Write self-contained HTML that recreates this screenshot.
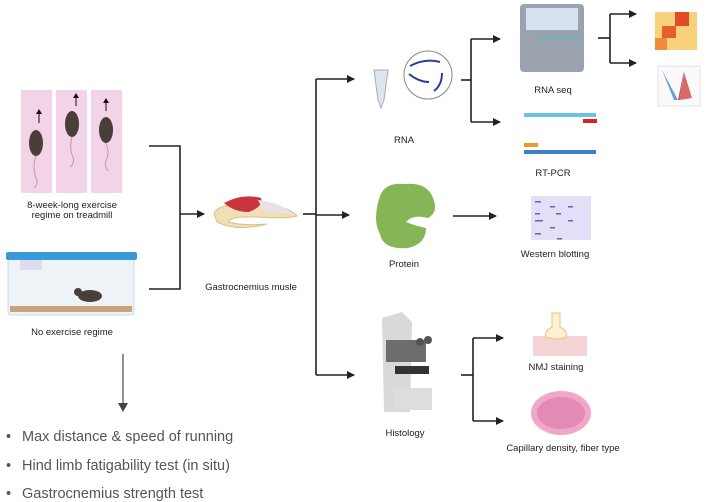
<!DOCTYPE html>
<html><head><meta charset="utf-8"><style>
html,body{margin:0;padding:0;background:#fff;width:709px;height:502px;overflow:hidden}
svg{display:block}
text{font-family:"Liberation Sans",sans-serif}
.l{font-size:9.5px;fill:#222;text-anchor:middle}
.b{font-size:14.5px;fill:#555}
</style></head><body>
<svg width="709" height="502" viewBox="0 0 709 502">
<defs>
<marker id="a" markerWidth="8" markerHeight="8" refX="7" refY="4" orient="auto" markerUnits="userSpaceOnUse"><path d="M0,0 L8,4 L0,8 z" fill="#222"/></marker>
</defs>
<g stroke="#222" stroke-width="1.6" fill="none">
<polyline points="149,146 180,146 180,289 149,289"/>
<line x1="180" y1="214" x2="204" y2="214" marker-end="url(#a)"/>
<line x1="303" y1="214" x2="316" y2="214"/>
<line x1="316" y1="79" x2="316" y2="375"/>
<line x1="316" y1="79" x2="354" y2="79" marker-end="url(#a)"/>
<line x1="316" y1="215" x2="349" y2="215" marker-end="url(#a)"/>
<line x1="316" y1="375" x2="354" y2="375" marker-end="url(#a)"/>
<polyline points="461,80 471,80"/>
<line x1="471" y1="39" x2="471" y2="122"/>
<line x1="471" y1="39" x2="500" y2="39" marker-end="url(#a)"/>
<line x1="471" y1="122" x2="500" y2="122" marker-end="url(#a)"/>
<line x1="598" y1="38" x2="610" y2="38"/>
<line x1="610" y1="14" x2="610" y2="63"/>
<line x1="610" y1="14" x2="636" y2="14" marker-end="url(#a)"/>
<line x1="610" y1="63" x2="636" y2="63" marker-end="url(#a)"/>
<line x1="453" y1="216" x2="496" y2="216" marker-end="url(#a)"/>
<line x1="461" y1="375" x2="473" y2="375"/>
<line x1="473" y1="338" x2="473" y2="421"/>
<line x1="473" y1="338" x2="503" y2="338" marker-end="url(#a)"/>
<line x1="473" y1="421" x2="503" y2="421" marker-end="url(#a)"/>
</g>
<line x1="123" y1="354" x2="123" y2="404" stroke="#555" stroke-width="1.3"/>
<path d="M118,403 L128,403 L123,412 z" fill="#444"/>

<rect x="21" y="90" width="31" height="103" fill="#f3d3e8"/>
<rect x="56" y="90" width="31" height="103" fill="#f3d3e8"/>
<rect x="91" y="90" width="31" height="103" fill="#f3d3e8"/>
<g fill="#4a3f38">
<ellipse cx="36" cy="143" rx="7" ry="13"/><ellipse cx="72" cy="124" rx="7" ry="13"/><ellipse cx="106" cy="130" rx="7" ry="13"/>
</g>
<g stroke="#c99" fill="none" stroke-width="1"><path d="M36,156 q-4,10 0,22 q3,6 -2,10"/><path d="M72,137 q-3,12 1,20 q2,6 -3,10"/><path d="M106,143 q4,10 0,18 q-2,5 2,10"/></g>
<g stroke="#111" stroke-width="1"><line x1="39" y1="123" x2="39" y2="113"/><line x1="76" y1="106" x2="76" y2="97"/><line x1="106" y1="111" x2="106" y2="102"/></g>
<g fill="#111"><path d="M36,114 l3,-5 l3,5z"/><path d="M73,98 l3,-5 l3,5z"/><path d="M103,103 l3,-5 l3,5z"/></g>
<text class="l" x="72" y="208">8-week-long exercise</text>
<text class="l" x="72" y="218">regime on treadmill</text>
<rect x="8" y="257" width="126" height="58" rx="3" fill="#eef3f8" stroke="#cfd8e0"/>
<rect x="6" y="252" width="131" height="8" rx="2" fill="#3a9ad9"/>
<rect x="20" y="260" width="22" height="10" fill="#dde"/>
<rect x="10" y="306" width="122" height="6" fill="#c8a27a"/>
<ellipse cx="90" cy="296" rx="12" ry="6" fill="#4a3f38"/><circle cx="78" cy="292" r="4" fill="#4a3f38"/>
<text class="l" x="72" y="335">No exercise regime</text>
<path d="M214,214 q3,-12 45,-10 q30,2 38,12 q-10,3 -40,1 q-28,-1 -28,5 q12,4 38,2 q-30,8 -50,-2z" fill="#f0dfb4" stroke="#d8c08a"/>
<path d="M224,203 q18,-10 37,-5 q3,8 -12,14 q-15,0 -25,-9z" fill="#c9343f"/>
<path d="M258,200 q20,2 36,14 l-30,-2z" fill="#e8e2e6"/>
<text class="l" x="251" y="290">Gastrocnemius musle</text>
<path d="M374,70 l14,0 l-4,30 l-3,8 l-3,-8z" fill="#dde6ee" stroke="#aab"/>
<circle cx="428" cy="75" r="24" fill="#fff" stroke="#888"/>
<g stroke="#2c3e9c" stroke-width="2" fill="none"><path d="M410,66 q15,-8 30,-4"/><path d="M409,74 q10,8 20,8"/><path d="M442,73 q0,12 -8,18"/></g>
<text class="l" x="404" y="143">RNA</text>
<rect x="520" y="4" width="64" height="68" rx="4" fill="#9aa2ad"/>
<rect x="526" y="8" width="52" height="22" fill="#d5e3ef"/>
<line x1="537" y1="38" x2="582" y2="38" stroke="#3cc" stroke-width="1"/>
<text class="l" x="553" y="93">RNA seq</text>
<rect x="655" y="12" width="42" height="38" fill="#f7d27a"/>
<rect x="675" y="12" width="14" height="14" fill="#e04b2c"/><rect x="662" y="26" width="14" height="12" fill="#e85d2e"/><rect x="655" y="38" width="12" height="12" fill="#f08a3c"/>
<rect x="658" y="66" width="42" height="40" fill="#fafafa" stroke="#ccc" stroke-width=".5"/>
<path d="M662,70 l12,30 l4,0z" fill="#6a9fd4"/><path d="M684,70 l-4,30 l-2,0z" fill="#cc5555"/><path d="M684,72 l8,26 l-12,2z" fill="#d76a6a"/>
<rect x="524" y="113" width="72" height="4" fill="#6ac2e6"/>
<rect x="524" y="150" width="72" height="4" fill="#3a82c4"/>
<rect x="583" y="119" width="14" height="4" fill="#d22"/>
<rect x="524" y="143" width="14" height="4" fill="#e89a2a"/>
<text class="l" x="553" y="176">RT-PCR</text>
<path d="M380,196 q5,-14 25,-12 q22,-2 28,14 q6,14 -5,20 q-15,-4 -22,4 q10,4 20,6 q0,16 -18,20 q-25,2 -28,-14 q-8,-14 0,-38z" fill="#86b556"/>
<text class="l" x="404" y="267">Protein</text>
<rect x="531" y="196" width="60" height="44" fill="#e4dff6"/>
<g fill="#6a5fc0"><rect x="535" y="201" width="6" height="1.5"/><rect x="550" y="206" width="5" height="1.5"/><rect x="568" y="206" width="5" height="1.5"/><rect x="535" y="213" width="5" height="1.5"/><rect x="556" y="213" width="5" height="1.5"/><rect x="535" y="220" width="8" height="1.5"/><rect x="568" y="220" width="5" height="1.5"/><rect x="550" y="227" width="5" height="1.5"/><rect x="535" y="233" width="6" height="1.5"/><rect x="557" y="238" width="5" height="1.5"/></g>
<text class="l" x="555" y="257">Western blotting</text>
<path d="M382,318 l20,-6 l10,10 l-2,90 l-26,0z" fill="#d9d9d9"/>
<rect x="386" y="340" width="40" height="22" fill="#6d6d6d"/>
<circle cx="420" cy="342" r="4" fill="#555"/><circle cx="428" cy="340" r="4" fill="#555"/>
<rect x="394" y="388" width="38" height="22" fill="#ddd"/>
<rect x="395" y="366" width="34" height="8" fill="#333"/>
<text class="l" x="405" y="436">Histology</text>
<rect x="533" y="336" width="54" height="20" fill="#f6d4d6"/>
<path d="M552,313 l8,0 l0,14 q8,4 6,10 q-8,4 -20,0 q-2,-6 6,-10z" fill="#fdf1d4" stroke="#f0c070"/>
<text class="l" x="556" y="370">NMJ staining</text>
<ellipse cx="561" cy="413" rx="30" ry="22" fill="#f0a8c8"/>
<ellipse cx="561" cy="413" rx="24" ry="16" fill="#dc78a8" opacity=".6"/>
<text class="l" x="563" y="451">Capillary density, fiber type</text>
<text class="b" x="6" y="441">•</text><text class="b" x="22" y="441">Max distance &amp; speed of running</text>
<text class="b" x="6" y="470">•</text><text class="b" x="22" y="470">Hind limb fatigability test (in situ)</text>
<text class="b" x="6" y="498">•</text><text class="b" x="22" y="498">Gastrocnemius strength test</text>
</svg>
</body></html>
